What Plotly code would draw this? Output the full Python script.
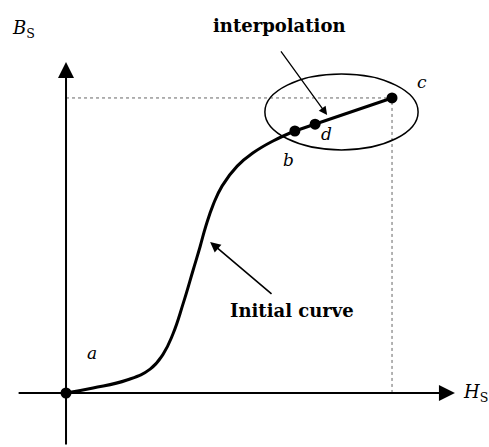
import plotly.graph_objects as go

# Initial magnetization curve (H_S, B_S) in normalised units, from a to b
curve_h = [0.0, 0.083, 0.187, 0.258, 0.298, 0.328, 0.359, 0.390, 0.411, 0.429,
           0.451, 0.479, 0.525, 0.574, 0.635, 0.702]
curve_b = [0.0, 0.017, 0.044, 0.081, 0.132, 0.200, 0.302, 0.417, 0.495, 0.566,
           0.637, 0.702, 0.769, 0.814, 0.854, 0.888]

# Interpolation segment b -> c
interp_h = [0.702, 1.0]
interp_b = [0.888, 1.0]

# Marked points
point_labels = ["a", "b", "d", "c"]
point_h = [0.0, 0.702, 0.764, 1.0]
point_b = [0.0, 0.888, 0.911, 1.0]

FONT = "DejaVu Serif"

fig = go.Figure()

# dotted guide lines to c
fig.add_trace(go.Scatter(x=[0, point_h[3], point_h[3]], y=[point_b[3], point_b[3], 0],
                         mode="lines", line=dict(color="#666666", width=1, dash="dot"),
                         hoverinfo="skip", showlegend=False))

fig.add_trace(go.Scatter(x=curve_h, y=curve_b, mode="lines",
                         line=dict(color="black", width=3, shape="spline", smoothing=1.3),
                         showlegend=False))
fig.add_trace(go.Scatter(x=interp_h, y=interp_b, mode="lines",
                         line=dict(color="black", width=3), showlegend=False))
fig.add_trace(go.Scatter(x=point_h, y=point_b, mode="markers",
                         marker=dict(color="black", size=11), showlegend=False))

# ellipse around the interpolation region
fig.add_shape(type="circle", xref="x", yref="y", x0=0.610, x1=1.080, y0=0.824, y1=1.081,
              line=dict(color="black", width=1.5))

annotations = []
# axes with arrows
annotations.append(dict(x=1.193, y=0, ax=-0.15, ay=0, xref="x", yref="y", axref="x", ayref="y",
                        text="", showarrow=True, arrowhead=2, arrowsize=1.6, arrowwidth=2,
                        arrowcolor="black"))
annotations.append(dict(x=0, y=1.122, ax=0, ay=-0.18, xref="x", yref="y", axref="x", ayref="y",
                        text="", showarrow=True, arrowhead=2, arrowsize=1.6, arrowwidth=2,
                        arrowcolor="black"))
# pointer arrows
annotations.append(dict(x=0.442, y=0.512, ax=0.635, ay=0.332, xref="x", yref="y", axref="x", ayref="y",
                        text="", showarrow=True, arrowhead=2, arrowsize=1.3, arrowwidth=1.6,
                        arrowcolor="black"))
annotations.append(dict(x=0.801, y=0.942, ax=0.656, ay=1.163, xref="x", yref="y", axref="x", ayref="y",
                        text="", showarrow=True, arrowhead=2, arrowsize=1.3, arrowwidth=1.3,
                        arrowcolor="black"))

def txt(x, y, t, size=15, weight="normal"):
    annotations.append(dict(x=x, y=y, xref="x", yref="y", text=t, showarrow=False,
                            font=dict(family=FONT, size=size, color="black", weight=weight)))

txt(-0.129, 1.234, "<i>B</i><sub>S</sub>", 18)
txt(1.255, 0.0, "<i>H</i><sub>S</sub>", 18)
txt(0.656, 1.247, "interpolation", 18, "bold")
txt(0.693, 0.278, "Initial curve", 18, "bold")
txt(point_h[0] + 0.080, point_b[0] + 0.136, "<i>a</i>", 17)
txt(point_h[1] - 0.021, point_b[1] - 0.098, "<i>b</i>", 17)
txt(point_h[2] + 0.034, point_b[2] - 0.033, "<i>d</i>", 17)
txt(point_h[3] + 0.092, point_b[3] + 0.054, "<i>c</i>", 17)

fig.update_layout(
    width=489, height=447, autosize=False,
    margin=dict(l=0, r=0, t=0, b=0),
    paper_bgcolor="white", plot_bgcolor="white",
    xaxis=dict(range=[-0.2025, 1.2975], visible=False, fixedrange=True),
    yaxis=dict(range=[-0.183, 1.332], visible=False, fixedrange=True),
    annotations=annotations,
    showlegend=False,
)

fig.write_html("out.html", config={"displayModeBar": False},
               post_script="document.body.style.margin='0';")
